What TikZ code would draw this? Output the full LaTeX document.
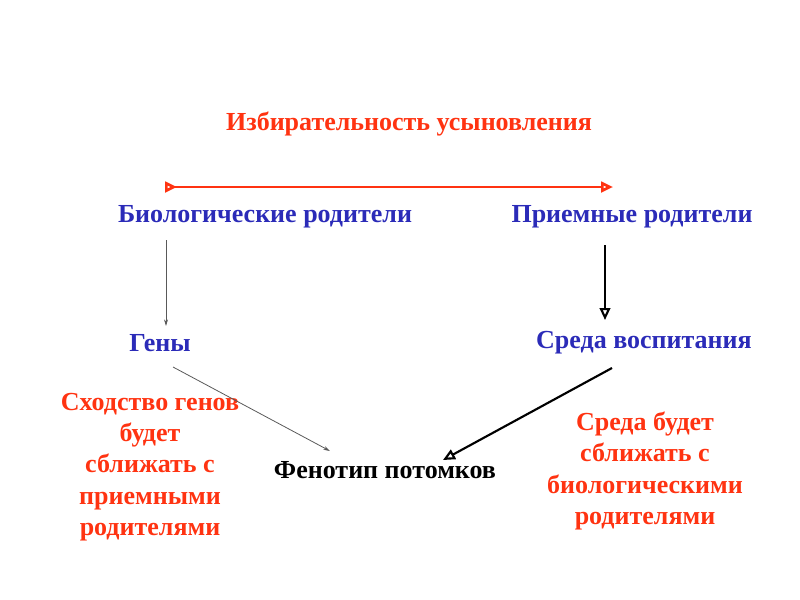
\documentclass[tikz,border=0pt]{standalone}
\usepackage{fontspec}
\setmainfont{Liberation Serif}
\usetikzlibrary{arrows.meta}

\definecolor{redtxt}{HTML}{FF3311}
\definecolor{bluetxt}{HTML}{2B2BB8}

\begin{document}
\begin{tikzpicture}[
  x=0.75pt, y=-0.75pt,
  font=\fontsize{19.5}{23.5}\selectfont\bfseries,
  lbl/.style={inner sep=1pt, align=center},
  redlbl/.style={lbl, text=redtxt},
  bluelbl/.style={lbl, text=bluetxt},
  thinarr/.style={draw=gray!70!black, line width=0.6pt, -{Stealth[length=5pt, width=3pt]}},
  boldarr/.style={draw=black, line width=1.6pt, -{Triangle[open, length=9pt, width=8pt]}}
]
\useasboundingbox (0,0) rectangle (800,600);

% labels
\node[redlbl] (sel) at (409,124) {Избирательность усыновления};
\node[bluelbl] (bio) at (265,217) {Биологические родители};
\node[bluelbl] (adop) at (632,217) {Приемные родители};
\node[bluelbl] (gen) at (160,343) {Гены};
\node[bluelbl] (env) at (644,343) {Среда воспитания};
\node[lbl] (phen) at (385,470) {Фенотип потомков};
\node[redlbl] (lnote) at (150,467) {Сходство генов\\будет\\сближать с\\приемными\\родителями};
\node[redlbl] (rnote) at (645,471) {Среда будет\\сближать с\\биологическими\\родителями};

% arrows
\coordinate (selA) at (165,187);
\coordinate (selB) at (613,187);
\draw[draw=redtxt, line width=2pt, {Triangle[open, reversed, length=9pt, width=8pt]}-{Triangle[open, length=9pt, width=8pt]}] (selA) -- (selB);
\draw[thinarr] (166,240) -- (166,326);
\draw[boldarr] (605,245) -- (605,320);
\draw[thinarr] (173,367) -- (330,451);
\draw[boldarr] (612,368) -- (443,460);
\end{tikzpicture}
\end{document}
